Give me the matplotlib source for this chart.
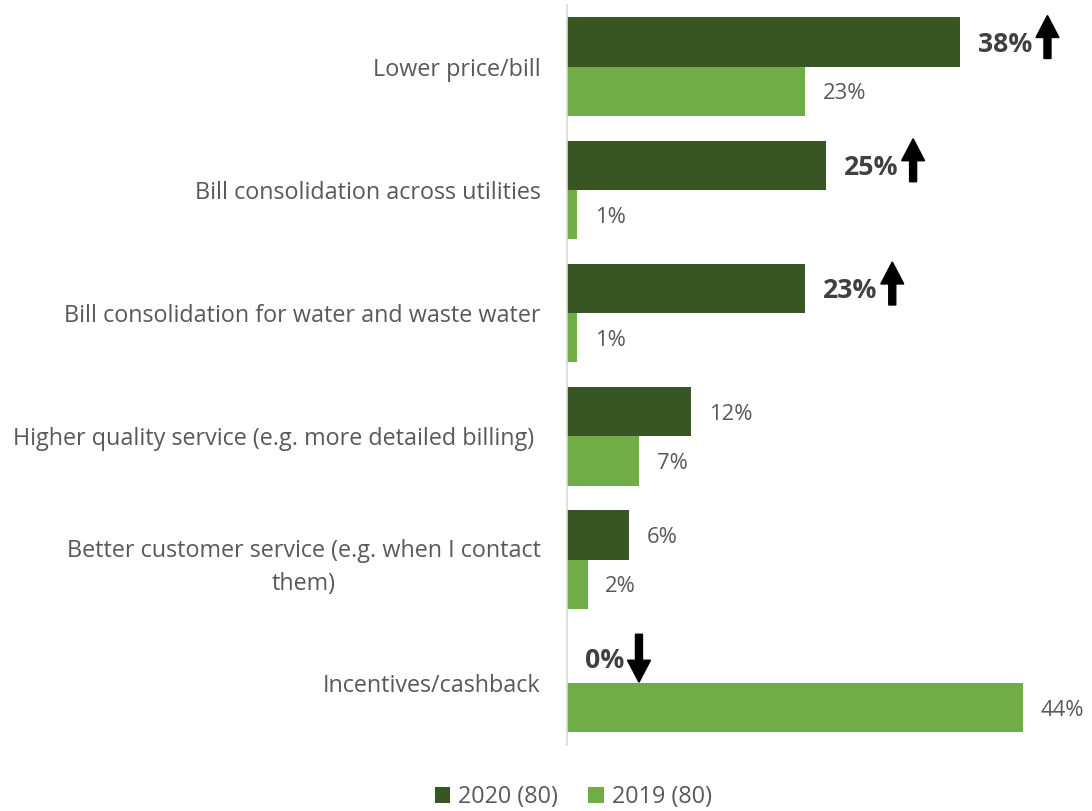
import matplotlib
matplotlib.use("Agg")
import matplotlib.pyplot as plt
from matplotlib.patches import FancyArrow
import numpy as np

categories = [
    "Lower price/bill",
    "Bill consolidation across utilities",
    "Bill consolidation for water and waste water",
    "Higher quality service (e.g. more detailed billing) ",
    "Better customer service (e.g. when I contact\nthem)",
    "Incentives/cashback",
]
values_2020 = [38, 25, 23, 12, 6, 0]
values_2019 = [23, 1, 1, 7, 2, 44]
# significance markers for the 2020 series: +1 up, -1 down, 0 none
change_2020 = [1, 1, 1, 0, 0, -1]

series_labels = ["2020 (80)", "2019 (80)"]
dark_green = "#375623"
light_green = "#70AD47"
text_gray = "#595959"
bold_gray = "#404040"

plt.rcParams["font.family"] = ["Open Sans", "DejaVu Sans"]
FS_CAT = 16.8
FS_VAL = 15.8
FS_BOLD = 19.2

W, H = 1092, 811
fig = plt.figure(figsize=(W / 100, H / 100), dpi=100)
ax = fig.add_axes([567 / W, 1 - 744.5 / H, 1 - 567 / W, (744.5 - 5) / H])

n = len(categories)
y = np.arange(n)
bh = 0.4
ax.barh(y - bh / 2, values_2020, height=bh, color=dark_green, label=series_labels[0])
ax.barh(y + bh / 2, values_2019, height=bh, color=light_green, label=series_labels[1])

ax.set_ylim(n - 0.5, -0.5)
ax.set_xlim(0, 50.7)
ax.set_yticks(y)
ax.set_yticklabels(categories, fontsize=FS_CAT, color=text_gray,
                   multialignment="center", linespacing=1.5)
ax.tick_params(axis="y", length=0, pad=19)
ax.set_xticks([])
for side in ["top", "right", "bottom"]:
    ax.spines[side].set_visible(False)
ax.spines["left"].set_color("#d9d9d9")
ax.spines["left"].set_linewidth(1.2)

label_pad = 1.7
bold_labels = []
for i in range(n):
    v20 = values_2020[i]
    if change_2020[i] != 0:
        t = ax.text(v20 + label_pad, i - bh / 2, f"{v20}%", ha="left", va="center_baseline",
                    fontsize=FS_BOLD, fontweight="bold", color=bold_gray)
        bold_labels.append((t, i - bh / 2, change_2020[i]))
    else:
        ax.text(v20 + label_pad, i - bh / 2, f"{v20}%", ha="left", va="center_baseline",
                fontsize=FS_VAL, color=text_gray)
    v19 = values_2019[i]
    ax.text(v19 + label_pad, i + bh / 2, f"{v19}%", ha="left", va="center_baseline",
            fontsize=FS_VAL, color=text_gray)

# arrows drawn in pixel space right after the bold labels
fig.canvas.draw()
renderer = fig.canvas.get_renderer()
for t, ypos, direction in bold_labels:
    bb = t.get_window_extent(renderer)
    cx = bb.x1 + 15
    bar_cy = ax.transData.transform((0, ypos))[1]
    if direction > 0:
        length = 43
        cy = bar_cy + 5
        start_y = cy - length / 2
        dy = length
    else:
        length = 48
        cy = bar_cy
        start_y = cy + length / 2
        dy = -length
    arr = FancyArrow(cx, start_y, 0, dy, width=7, head_width=23,
                     head_length=22, length_includes_head=True,
                     color="black", transform=None, figure=fig)
    fig.patches.append(arr)

leg = fig.legend(loc="center", bbox_to_anchor=(0.525, 1 - 797 / H), ncol=2, frameon=False,
                 fontsize=FS_CAT, handlelength=0.65, handleheight=0.65, handletextpad=0.35,
                 columnspacing=1.3)
for txt in leg.get_texts():
    txt.set_color(text_gray)

fig.savefig("out.png", dpi=100)
